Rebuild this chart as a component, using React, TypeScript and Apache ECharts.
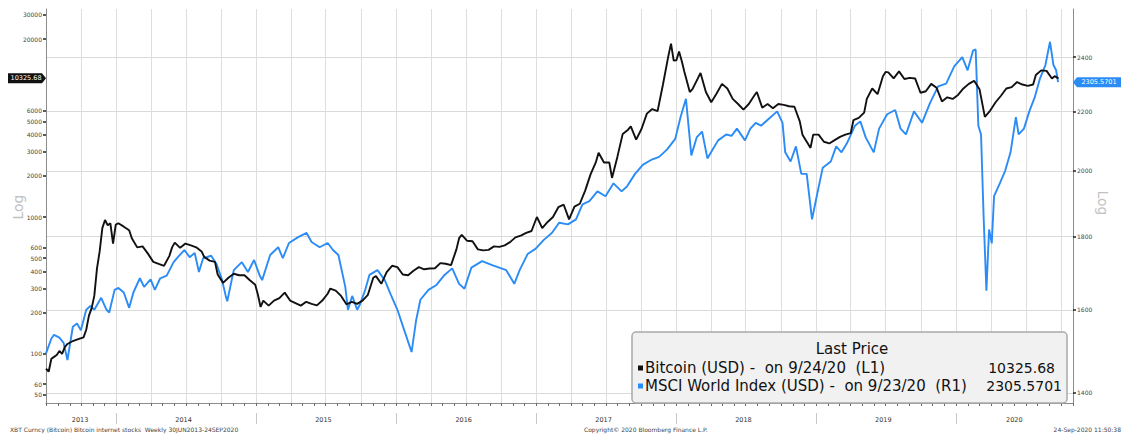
import React, { useEffect, useRef } from "react";
import * as echarts from "echarts";

type P = [string, number];

const BITCOIN: P[] = [
  ["2013-07-01", 78], ["2013-07-08", 74], ["2013-07-15", 92], ["2013-07-22", 95], ["2013-07-29", 98],
  ["2013-08-05", 105], ["2013-08-12", 100], ["2013-08-19", 112], ["2013-08-26", 118], ["2013-09-09", 124],
  ["2013-09-23", 128], ["2013-10-07", 132], ["2013-10-14", 150], ["2013-10-21", 190], ["2013-10-28", 215],
  ["2013-11-04", 265], ["2013-11-11", 420], ["2013-11-18", 560], ["2013-11-25", 830], ["2013-12-02", 950],
  ["2013-12-09", 870], ["2013-12-16", 900], ["2013-12-23", 640], ["2013-12-30", 880], ["2014-01-06", 900],
  ["2014-01-20", 850], ["2014-02-03", 800], ["2014-02-10", 700], ["2014-02-24", 600], ["2014-03-10", 610],
  ["2014-03-24", 540], ["2014-04-07", 470], ["2014-04-21", 455], ["2014-05-05", 440], ["2014-05-19", 520],
  ["2014-05-26", 600], ["2014-06-02", 650], ["2014-06-16", 595], ["2014-06-30", 640], ["2014-07-14", 620],
  ["2014-07-28", 600], ["2014-08-11", 560], ["2014-08-18", 510], ["2014-09-01", 480], ["2014-09-15", 470],
  ["2014-09-22", 380], ["2014-10-06", 330], ["2014-10-20", 360], ["2014-11-03", 385], ["2014-11-17", 375],
  ["2014-12-01", 375], ["2014-12-15", 345], ["2014-12-29", 320], ["2015-01-05", 270], ["2015-01-12", 220],
  ["2015-01-19", 245], ["2015-02-02", 225], ["2015-02-16", 245], ["2015-03-02", 255], ["2015-03-16", 280],
  ["2015-03-30", 245], ["2015-04-13", 235], ["2015-04-27", 225], ["2015-05-11", 240], ["2015-05-25", 232],
  ["2015-06-08", 226], ["2015-06-22", 245], ["2015-07-06", 275], ["2015-07-13", 300], ["2015-07-27", 290],
  ["2015-08-10", 265], ["2015-08-24", 230], ["2015-09-07", 240], ["2015-09-21", 232], ["2015-10-05", 245],
  ["2015-10-19", 270], ["2015-11-02", 360], ["2015-11-09", 370], ["2015-11-23", 325], ["2015-12-07", 395],
  ["2015-12-21", 440], ["2016-01-04", 430], ["2016-01-18", 380], ["2016-02-01", 375], ["2016-02-15", 405],
  ["2016-02-29", 430], ["2016-03-14", 415], ["2016-03-28", 420], ["2016-04-11", 422], ["2016-04-25", 460],
  ["2016-05-09", 455], ["2016-05-23", 445], ["2016-06-06", 580], ["2016-06-13", 700], ["2016-06-20", 740],
  ["2016-07-04", 670], ["2016-07-18", 665], ["2016-08-01", 580], ["2016-08-15", 570], ["2016-08-29", 575],
  ["2016-09-12", 610], ["2016-09-26", 605], ["2016-10-10", 620], ["2016-10-24", 655], ["2016-11-07", 710],
  ["2016-11-21", 730], ["2016-12-05", 765], ["2016-12-19", 790], ["2017-01-02", 1000], ["2017-01-16", 830],
  ["2017-01-30", 920], ["2017-02-13", 1000], ["2017-02-27", 1180], ["2017-03-13", 1230], ["2017-03-27", 960],
  ["2017-04-10", 1190], ["2017-04-24", 1250], ["2017-05-08", 1560], ["2017-05-22", 2050], ["2017-06-05", 2520],
  ["2017-06-12", 2950], ["2017-06-26", 2500], ["2017-07-10", 2500], ["2017-07-17", 1930], ["2017-07-31", 2750],
  ["2017-08-14", 4050], ["2017-08-28", 4350], ["2017-09-04", 4600], ["2017-09-18", 3680], ["2017-10-02", 4400],
  ["2017-10-16", 5700], ["2017-10-30", 6150], ["2017-11-13", 5950], ["2017-11-27", 9300], ["2017-12-11", 15000],
  ["2017-12-18", 18500], ["2017-12-25", 13900], ["2018-01-01", 14000], ["2018-01-08", 16200], ["2018-01-15", 13800],
  ["2018-01-22", 11500], ["2018-02-05", 8200], ["2018-02-12", 8600], ["2018-02-26", 10300], ["2018-03-05", 11300],
  ["2018-03-19", 8200], ["2018-04-02", 6900], ["2018-04-16", 8000], ["2018-04-30", 9400], ["2018-05-14", 8700],
  ["2018-05-28", 7300], ["2018-06-11", 6700], ["2018-06-25", 6100], ["2018-07-09", 6700], ["2018-07-23", 7700],
  ["2018-07-30", 8200], ["2018-08-13", 6300], ["2018-08-27", 6700], ["2018-09-10", 6250], ["2018-09-24", 6700],
  ["2018-10-08", 6600], ["2018-10-22", 6450], ["2018-11-05", 6400], ["2018-11-19", 5000], ["2018-11-26", 4000],
  ["2018-12-10", 3450], ["2018-12-17", 3200], ["2018-12-24", 4000], ["2019-01-07", 4000], ["2019-01-21", 3550],
  ["2019-02-04", 3450], ["2019-02-18", 3650], ["2019-03-04", 3850], ["2019-03-18", 4000], ["2019-04-01", 4100],
  ["2019-04-08", 5100], ["2019-04-22", 5300], ["2019-05-06", 5800], ["2019-05-13", 7300], ["2019-05-27", 8700],
  ["2019-06-10", 7900], ["2019-06-24", 10700], ["2019-07-01", 11500], ["2019-07-08", 11400], ["2019-07-22", 10300],
  ["2019-08-05", 11600], ["2019-08-19", 10200], ["2019-09-02", 10400], ["2019-09-16", 10300], ["2019-09-30", 8100],
  ["2019-10-14", 8300], ["2019-10-28", 9400], ["2019-11-11", 8800], ["2019-11-25", 7000], ["2019-12-09", 7500],
  ["2019-12-23", 7300], ["2020-01-06", 7800], ["2020-01-20", 8700], ["2020-02-03", 9400], ["2020-02-17", 9900],
  ["2020-03-02", 8600], ["2020-03-16", 5400], ["2020-03-30", 6000], ["2020-04-13", 6900], ["2020-04-27", 7700],
  ["2020-05-11", 8700], ["2020-05-25", 8900], ["2020-06-08", 9700], ["2020-06-22", 9300], ["2020-07-06", 9100],
  ["2020-07-20", 9300], ["2020-07-27", 10900], ["2020-08-10", 11800], ["2020-08-24", 11700], ["2020-09-07", 10300],
  ["2020-09-14", 10700], ["2020-09-24", 10325.68],
];

const MSCI: P[] = [
  ["2013-07-01", 1492], ["2013-07-15", 1528], ["2013-07-22", 1537], ["2013-08-05", 1530], ["2013-08-16", 1517],
  ["2013-08-26", 1476], ["2013-09-09", 1557], ["2013-09-20", 1565], ["2013-09-30", 1548], ["2013-10-14", 1600],
  ["2013-10-25", 1610], ["2013-11-04", 1600], ["2013-11-22", 1631], ["2013-12-06", 1600], ["2013-12-13", 1593],
  ["2013-12-27", 1652], ["2014-01-06", 1657], ["2014-01-20", 1645], ["2014-02-03", 1605], ["2014-02-14", 1645],
  ["2014-03-03", 1683], ["2014-03-14", 1660], ["2014-03-31", 1680], ["2014-04-11", 1652], ["2014-04-25", 1683],
  ["2014-05-12", 1690], ["2014-05-30", 1727], ["2014-06-10", 1741], ["2014-06-27", 1761], ["2014-07-11", 1741],
  ["2014-07-24", 1753], ["2014-08-04", 1700], ["2014-08-15", 1738], ["2014-09-05", 1745], ["2014-09-19", 1722],
  ["2014-10-03", 1680], ["2014-10-13", 1636], ["2014-10-17", 1622], ["2014-11-03", 1705], ["2014-11-24", 1727],
  ["2014-12-10", 1700], ["2014-12-26", 1733], ["2015-01-09", 1692], ["2015-01-16", 1678], ["2015-02-06", 1747],
  ["2015-02-27", 1769], ["2015-03-11", 1738], ["2015-03-27", 1781], ["2015-04-20", 1798], ["2015-05-12", 1810],
  ["2015-05-25", 1784], ["2015-06-15", 1769], ["2015-07-06", 1781], ["2015-07-20", 1761], ["2015-08-03", 1747],
  ["2015-08-21", 1660], ["2015-08-28", 1600], ["2015-09-08", 1636], ["2015-09-21", 1600], ["2015-09-28", 1613],
  ["2015-10-12", 1652], ["2015-10-23", 1692], ["2015-11-13", 1705], ["2015-12-02", 1678], ["2015-12-18", 1639],
  ["2016-01-04", 1600], ["2016-01-22", 1548], ["2016-02-10", 1495], ["2016-02-22", 1574], ["2016-03-04", 1626],
  ["2016-03-25", 1652], ["2016-04-15", 1665], ["2016-05-06", 1692], ["2016-05-26", 1710], ["2016-06-13", 1668],
  ["2016-06-27", 1655], ["2016-07-15", 1712], ["2016-08-12", 1730], ["2016-09-09", 1718], ["2016-10-14", 1705],
  ["2016-11-04", 1668], ["2016-11-18", 1705], ["2016-12-09", 1750], ["2016-12-30", 1765], ["2017-01-20", 1790],
  ["2017-02-10", 1810], ["2017-03-01", 1840], ["2017-03-24", 1835], ["2017-04-14", 1850], ["2017-05-01", 1895],
  ["2017-05-19", 1905], ["2017-06-09", 1935], ["2017-06-30", 1920], ["2017-07-21", 1960], ["2017-08-11", 1935],
  ["2017-08-25", 1950], ["2017-09-15", 1990], ["2017-10-06", 2020], ["2017-10-27", 2035], ["2017-11-17", 2045],
  ["2017-12-08", 2070], ["2017-12-29", 2105], ["2018-01-12", 2180], ["2018-01-26", 2245], ["2018-02-09", 2050],
  ["2018-02-23", 2110], ["2018-03-09", 2130], ["2018-03-23", 2040], ["2018-04-06", 2070], ["2018-04-20", 2100],
  ["2018-05-11", 2120], ["2018-05-25", 2115], ["2018-06-08", 2140], ["2018-06-29", 2100], ["2018-07-13", 2140],
  ["2018-07-27", 2160], ["2018-08-10", 2150], ["2018-08-31", 2175], ["2018-09-21", 2200], ["2018-10-05", 2160],
  ["2018-10-12", 2060], ["2018-10-26", 2030], ["2018-11-09", 2080], ["2018-11-23", 1990], ["2018-12-07", 1990],
  ["2018-12-21", 1850], ["2019-01-04", 1930], ["2019-01-18", 2010], ["2019-02-08", 2030], ["2019-02-22", 2080],
  ["2019-03-08", 2060], ["2019-03-22", 2090], ["2019-04-12", 2150], ["2019-04-26", 2165], ["2019-05-10", 2110],
  ["2019-05-31", 2060], ["2019-06-14", 2140], ["2019-07-05", 2190], ["2019-07-26", 2205], ["2019-08-09", 2140],
  ["2019-08-23", 2120], ["2019-09-13", 2200], ["2019-10-04", 2160], ["2019-10-25", 2230], ["2019-11-15", 2290],
  ["2019-12-06", 2300], ["2019-12-27", 2365], ["2020-01-17", 2400], ["2020-01-31", 2350], ["2020-02-14", 2425],
  ["2020-02-21", 2430], ["2020-02-28", 2150], ["2020-03-06", 2120], ["2020-03-13", 1850], ["2020-03-20", 1650],
  ["2020-03-27", 1820], ["2020-04-03", 1780], ["2020-04-09", 1920], ["2020-04-24", 1960], ["2020-05-08", 2000],
  ["2020-05-22", 2060], ["2020-06-05", 2180], ["2020-06-12", 2120], ["2020-06-26", 2140], ["2020-07-10", 2200],
  ["2020-07-24", 2250], ["2020-08-07", 2320], ["2020-08-21", 2370], ["2020-09-02", 2460], ["2020-09-11", 2370],
  ["2020-09-18", 2350], ["2020-09-23", 2305.5701],
];

const LEFT_TICKS = [50, 60, 100, 200, 300, 400, 500, 600, 1000, 2000, 3000, 4000, 5000, 6000, 20000, 30000];
const RIGHT_TICKS = [1400, 1600, 1800, 2000, 2200, 2400];
const YEAR_LABELS = ["2013", "2014", "2015", "2016", "2017", "2018", "2019", "2020"];
const YEAR_LABEL_AT = ["2013-09-28", "2014-06-25", "2015-06-25", "2016-06-25", "2017-06-25", "2018-06-25", "2019-06-25", "2020-06-01"];
const YEAR_STARTS = ["2014-01-01", "2015-01-01", "2016-01-01", "2017-01-01", "2018-01-01", "2019-01-01", "2020-01-01"];
const SERIES_NAMES = ["Bitcoin (USD)", "MSCI World Index (USD)"];
const LAST_ON = ["9/24/20", "9/23/20"];
const LAST_REF = ["(L1)", "(R1)"];
const LAST_PRICE_TEXT = ["10325.68", "2305.5701"];
const COLORS = ["#111111", "#2b8cf6"];
const X_MIN = "2013-07-01";
const X_MAX = "2020-11-01";
const LEFT_RANGE = [43.7, 33150];
const RIGHT_RANGE = [1377.6, 2593];
const LEGEND_TITLE = "Last Price";
const FOOTER_LEFT = "XBT Curncy (Bitcoin) Bitcoin internet stocks  Weekly 30JUN2013-24SEP2020";
const FOOTER_MID = "Copyright\u00a9 2020 Bloomberg Finance L.P.";
const FOOTER_RIGHT = "24-Sep-2020 11:50:38";
const AXIS_NAME = "Log";

const FONT = "DejaVu Sans";

export default function App() {
  const ref = useRef<HTMLDivElement>(null);

  useEffect(() => {
    document.body.style.margin = "0";
    const chart = echarts.init(ref.current as HTMLDivElement, null, { renderer: "svg" });
    const ts = (s: string) => Date.parse(s + "T00:00:00Z");
    const xMin = ts(X_MIN);
    const xMax = ts(X_MAX);

    const monthTicks: number[] = [];
    for (let y = 2013; y <= 2020; y++) {
      for (let m = 0; m < 12; m++) {
        const t = Date.UTC(y, m, 1);
        if (t >= xMin && t <= xMax) monthTicks.push(t);
      }
    }
    const quarterTicks = monthTicks.filter((t) => new Date(t).getUTCMonth() % 3 === 0);
    const yearStarts = YEAR_STARTS.map(ts);
    const yearLabelAt = YEAR_LABEL_AT.map(ts);

    const baseX = { type: "value", min: xMin, max: xMax, position: "bottom", scale: true };

    const option: any = {
      animation: false,
      textStyle: { fontFamily: FONT },
      grid: { left: 46, right: 51, top: 9, bottom: 32, containLabel: false },
      xAxis: [
        {
          ...baseX,
          axisLine: { show: true, lineStyle: { color: "#8c8c8c", width: 1 } },
          axisTick: { show: true, length: 3, customValues: monthTicks, lineStyle: { color: "#6a6a6a", width: 1 } },
          axisLabel: { show: false },
          splitLine: { show: false },
        },
        {
          ...baseX,
          axisLine: { show: false },
          axisTick: { show: false, customValues: quarterTicks },
          axisLabel: { show: false },
          splitLine: { show: true, lineStyle: { color: "#dedede", width: 1 } },
        },
        {
          ...baseX,
          offset: 10,
          axisLine: { show: false },
          axisTick: { show: true, length: 11, customValues: yearStarts, lineStyle: { color: "#c8c8c8", width: 1 } },
          axisLabel: {
            show: true,
            customValues: yearLabelAt,
            margin: 3,
            fontSize: 6.5,
            color: "#333",
            formatter: (v: number) => {
              const i = yearLabelAt.indexOf(v);
              return i >= 0 ? YEAR_LABELS[i] : "";
            },
          },
          splitLine: { show: false },
        },
      ],
      yAxis: [
        {
          type: "log",
          logBase: 10,
          position: "left",
          min: LEFT_RANGE[0],
          max: LEFT_RANGE[1],
          axisLine: { show: true, lineStyle: { color: "#8c8c8c", width: 1 } },
          axisTick: { show: true, length: 3, customValues: LEFT_TICKS, lineStyle: { color: "#222", width: 1.5 } },
          axisLabel: {
            show: true,
            customValues: LEFT_TICKS,
            margin: 4,
            fontSize: 6,
            color: "#444",
            formatter: (v: number) => String(Math.round(v)),
          },
          splitLine: { show: false },
          minorTick: { show: false },
          minorSplitLine: { show: false },
        },
        {
          type: "log",
          logBase: 10,
          position: "right",
          min: RIGHT_RANGE[0],
          max: RIGHT_RANGE[1],
          axisLine: { show: true, lineStyle: { color: "#8c8c8c", width: 1 } },
          axisTick: { show: true, length: 3, customValues: RIGHT_TICKS, lineStyle: { color: "#222", width: 1.5 } },
          axisLabel: {
            show: true,
            customValues: RIGHT_TICKS,
            margin: 4,
            fontSize: 6,
            color: "#444",
            formatter: (v: number) => String(Math.round(v)),
          },
          splitLine: { show: true, lineStyle: { color: "#d9d9d9", width: 1 } },
        },
      ],
      series: [
        {
          name: SERIES_NAMES[1],
          type: "line",
          xAxisIndex: 0,
          yAxisIndex: 1,
          showSymbol: false,
          symbol: "none",
          data: MSCI.map(([d, v]) => [ts(d), v]),
          lineStyle: { color: COLORS[1], width: 1.9 },
          z: 3,
        },
        {
          name: SERIES_NAMES[0],
          type: "line",
          xAxisIndex: 0,
          yAxisIndex: 0,
          showSymbol: false,
          symbol: "none",
          data: BITCOIN.map(([d, v]) => [ts(d), v]),
          lineStyle: { color: COLORS[0], width: 1.9 },
          z: 4,
        },
      ],
    };

    chart.setOption(option);

    const lastBtc = BITCOIN[BITCOIN.length - 1][1];
    const lastMsci = MSCI[MSCI.length - 1][1];
    const yL = chart.convertToPixel({ yAxisIndex: 0 } as any, lastBtc) as unknown as number;
    const yR = chart.convertToPixel({ yAxisIndex: 1 } as any, lastMsci) as unknown as number;

    const rowY = [368, 386];
    const valueRight = [1055, 1062];

    const graphics: any[] = [
      {
        type: "text",
        x: 18,
        y: 207,
        rotation: Math.PI / 2,
        style: { text: AXIS_NAME, fontSize: 14, fill: "#c2c2c2", align: "center", verticalAlign: "middle", fontFamily: FONT },
      },
      {
        type: "text",
        x: 1103,
        y: 203,
        rotation: -Math.PI / 2,
        style: { text: AXIS_NAME, fontSize: 14, fill: "#c2c2c2", align: "center", verticalAlign: "middle", fontFamily: FONT },
      },
      {
        type: "rect",
        shape: { x: 632, y: 332, width: 435, height: 71, r: 4 },
        style: { fill: "#f1f1f1", stroke: "#a9a9a9", lineWidth: 1.5 },
        z: 100,
      },
      {
        type: "text",
        x: 852,
        y: 349,
        z: 101,
        style: { text: LEGEND_TITLE, fontSize: 15, fill: "#111", align: "center", verticalAlign: "middle", fontFamily: FONT },
      },
    ];

    SERIES_NAMES.forEach((name, i) => {
      graphics.push({
        type: "rect",
        z: 101,
        shape: { x: 638, y: rowY[i] - 2.5, width: 5, height: 5 },
        style: { fill: COLORS[i] },
      });
      graphics.push({
        type: "text",
        x: 645,
        y: rowY[i],
        z: 101,
        style: {
          text: `${name} -  on ${LAST_ON[i]}  ${LAST_REF[i]}`,
          fontSize: 15,
          fill: "#111",
          align: "left",
          verticalAlign: "middle",
          fontFamily: FONT,
        },
      });
      graphics.push({
        type: "text",
        x: valueRight[i],
        y: rowY[i],
        z: 101,
        style: {
          text: LAST_PRICE_TEXT[i],
          fontSize: 14,
          fill: "#111",
          align: "right",
          verticalAlign: "middle",
          fontFamily: FONT,
        },
      });
    });

    if (isFinite(yL)) {
      graphics.push(
        {
          type: "polygon",
          z: 50,
          shape: { points: [[8, yL - 5], [42, yL - 5], [46, yL], [42, yL + 5], [8, yL + 5]] },
          style: { fill: "#111111" },
        },
        {
          type: "text",
          x: 26,
          y: yL,
          z: 51,
          style: { text: LAST_PRICE_TEXT[0], fontSize: 6.5, fill: "#ffffff", align: "center", verticalAlign: "middle", fontFamily: FONT },
        }
      );
    }
    if (isFinite(yR)) {
      graphics.push(
        {
          type: "polygon",
          z: 50,
          shape: { points: [[1073, yR], [1077, yR - 5], [1121, yR - 5], [1121, yR + 5], [1077, yR + 5]] },
          style: { fill: COLORS[1] },
        },
        {
          type: "text",
          x: 1099,
          y: yR,
          z: 51,
          style: { text: LAST_PRICE_TEXT[1], fontSize: 6.5, fill: "#ffffff", align: "center", verticalAlign: "middle", fontFamily: FONT },
        }
      );
    }
    graphics.push(
      {
        type: "text",
        x: 10,
        y: 429,
        style: { text: FOOTER_LEFT, fontSize: 6, fill: "#444", align: "left", verticalAlign: "middle", fontFamily: FONT },
      },
      {
        type: "text",
        x: 584,
        y: 429,
        style: { text: FOOTER_MID, fontSize: 6, fill: "#444", align: "left", verticalAlign: "middle", fontFamily: FONT },
      },
      {
        type: "text",
        x: 1121,
        y: 429,
        style: { text: FOOTER_RIGHT, fontSize: 6, fill: "#444", align: "right", verticalAlign: "middle", fontFamily: FONT },
      }
    );

    chart.setOption({ graphic: graphics });

    return () => {
      chart.dispose();
    };
  }, []);

  return <div ref={ref} style={{ width: 1124, height: 435 }} />;
}
